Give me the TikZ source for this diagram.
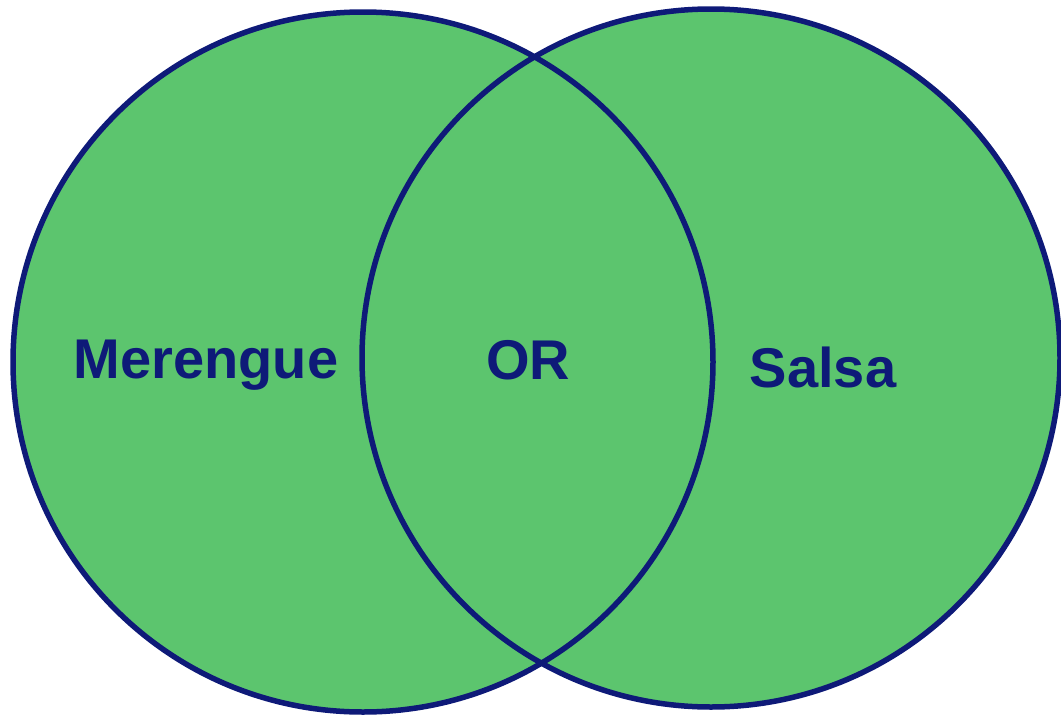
\documentclass[tikz,border=0pt]{standalone}
\usepackage{fontspec}
\setmainfont{Liberation Sans}
\definecolor{setgreen}{HTML}{5CC56E}
\definecolor{setnavy}{HTML}{0E1A78}
\begin{document}
\begin{tikzpicture}[x=1pt,y=-1pt,
  setfill/.style={fill=setgreen},
  setline/.style={draw=setnavy,line width=5.5pt},
  setlabel/.style={text=setnavy,font=\fontsize{56}{60}\selectfont\bfseries,inner sep=0pt,anchor=base}]
\useasboundingbox (0,0) rectangle (1061,718);
\coordinate (cl) at (363,362);
\coordinate (cr) at (711,358);
% filled discs first, outlines on top
\fill[setfill] (cl) circle[radius=350];
\fill[setfill] (cr) circle[radius=349];
\draw[setline] (cl) circle[radius=350];
\draw[setline] (cr) circle[radius=349];
% set labels
\node[setlabel] (merengue) at (206,378) {Merengue};
\node[setlabel] (or) at (528,379) {OR};
\node[setlabel] (salsa) at (823,387) {Salsa};
\end{tikzpicture}
\end{document}
